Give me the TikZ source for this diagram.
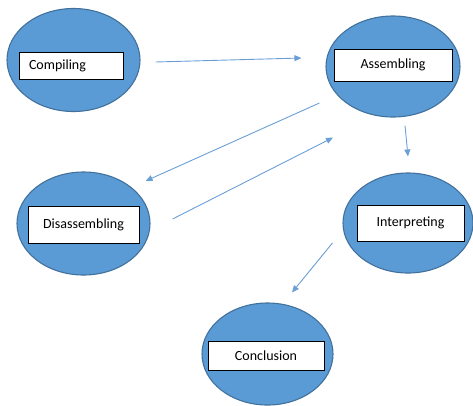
\documentclass[tikz,border=0pt]{standalone}
\usepackage{fontspec}
\setmainfont{Carlito}
\usetikzlibrary{shapes.geometric,arrows.meta}
\definecolor{stageblue}{HTML}{5B9BD5}
\definecolor{stageedge}{HTML}{41719C}
\definecolor{flowblue}{HTML}{6A9FD6}

\begin{document}
\begin{tikzpicture}[x=1pt,y=-1pt,
    stage/.style={ellipse,draw=stageedge,fill=stageblue,line width=1.1pt,inner sep=0pt},
    label/.style={draw=black,fill=white,line width=0.8pt,font=\fontsize{14}{16}\selectfont,inner sep=0pt},
    flow/.style={draw=flowblue,line width=0.9pt,-{Triangle[length=7pt,width=6pt]}}]
  \useasboundingbox (0,0) rectangle (473,405);
  % stages
  \node[stage,minimum width=133pt,minimum height=103pt] (comp) at (73.5,60) {};
  \node[stage,minimum width=134pt,minimum height=101pt] (asm) at (393,66.5) {};
  \node[stage,minimum width=133pt,minimum height=103pt] (dis) at (83.5,223.5) {};
  \node[stage,minimum width=130pt,minimum height=100pt] (intp) at (408,223) {};
  \node[stage,minimum width=131pt,minimum height=102pt] (conc) at (267.5,354) {};

  % boxes with names
  \node[label,text width=84pt,align=left,inner xsep=10pt,minimum height=27pt] (compbox) at (71,65.5) {Compiling};
  \node[label,minimum width=118pt,minimum height=32pt] (asmbox) at (393,65) {Assembling};
  \node[label,minimum width=111pt,minimum height=37pt] (disbox) at (83.5,224.5) {Disassembling};
  \node[label,minimum width=107pt,minimum height=36pt] (intpbox) at (410.5,223) {Interpreting};
  \node[label,minimum width=116pt,minimum height=29pt] (concbox) at (266,355.5) {Conclusion};

  % arrows
  \draw[flow] ([xshift=15pt,yshift=-2pt]comp.east) -- ([xshift=-24pt,yshift=8.5pt]asm.west);
  \draw[flow] ([xshift=-6pt,yshift=-36.5pt]asm.west) -- ([xshift=-5pt,yshift=42.5pt]dis.east);
  \draw[flow] ([xshift=22pt,yshift=4.5pt]dis.east) -- ([xshift=-60pt,yshift=-20pt]asm.south);
  \draw[flow] ([xshift=12pt,yshift=-8pt]asm.south) -- ([yshift=16pt]intp.north);
  \draw[flow] ([xshift=-10pt,yshift=-20pt]intp.west) -- ([xshift=24.5pt,yshift=10pt]conc.north);
\end{tikzpicture}
\end{document}
